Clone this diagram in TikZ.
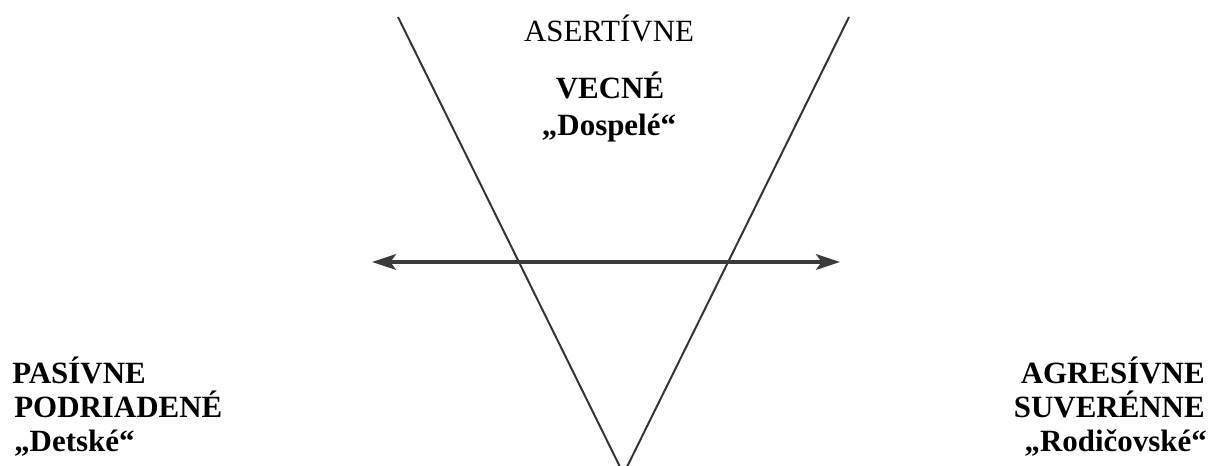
\documentclass[tikz,border=0pt]{standalone}
\usepackage{fontspec}
\setmainfont{Liberation Serif}
\usepackage{xcolor}
\usetikzlibrary{arrows.meta}
\definecolor{ciara}{HTML}{333333}
\definecolor{sipka}{HTML}{3A3A3A}
\newcommand{\velkepismo}{\fontsize{22}{27}\selectfont}

\begin{document}
\begin{tikzpicture}[x=0.025cm, y=0.025cm, >={Stealth[length=17pt, width=11pt, inset=4pt]},
    popis/.style={inner sep=0pt, font=\velkepismo},
    tucny/.style={inner sep=0pt, font=\velkepismo\bfseries}]
  \useasboundingbox (0,0) rectangle (1216,466);

  % Písmeno V
  \coordinate (vlavo) at (398,449);
  \coordinate (vpravo) at (849,449);
  \coordinate (hrot) at (623.5,-8);
  \draw[ciara, line width=1.4pt] (vlavo) -- (hrot) -- (vpravo);

  % Vodorovná os
  \coordinate (osl) at (372,204);
  \coordinate (osp) at (840,204);
  \draw[<->, sipka, line width=2.8pt] (osl) -- (osp);

  % Asertívne (hore)
  \node[popis, anchor=base] (asertivne) at (609,424) {ASERTÍVNE};
  \node[tucny, anchor=base] (vecne) at (610,367) {VECNÉ};
  \node[tucny, anchor=base] (dospele) at (609,330) {„Dospelé“};

  % Pasívne (vľavo)
  \node[tucny, anchor=base west] (pasivne) at (12,82) {PASÍVNE};
  \node[tucny, anchor=base west] (podriadene) at (14,48) {PODRIADENÉ};
  \node[tucny, anchor=base west] (detske) at (14,14) {„Detské“};

  % Agresívne (vpravo)
  \node[tucny, anchor=base east] (agresivne) at (1205,82) {AGRESÍVNE};
  \node[tucny, anchor=base east] (suverenne) at (1205,48) {SUVERÉNNE};
  \node[tucny, anchor=base east] (rodicovske) at (1207,14) {„Rodičovské“};
\end{tikzpicture}
\end{document}
